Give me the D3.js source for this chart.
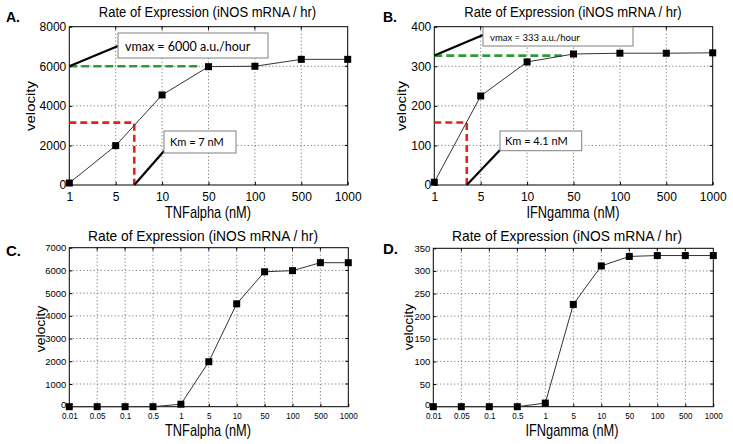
<!DOCTYPE html>
<html><head><meta charset="utf-8">
<script src="https://cdn.jsdelivr.net/npm/d3@7"></script>
<style>
body{margin:0;background:#fff}
svg{display:block;font-family:"Liberation Sans",Arial,Helvetica,sans-serif}
</style>
</head><body>
<svg id="chart" width="733" height="444"></svg>
<script>
// ---------- data ----------
const catsAB = ["1","5","10","50","100","500","1000"];
const catsCD = ["0.01","0.05","0.1","0.5","1","5","10","50","100","500","1000"];
const velA = [100, 1990, 4550, 5980, 6000, 6350, 6350];
const velB = [7, 225, 311, 331, 333, 333, 334];
const velC = [0, 0, 0, 0, 110, 1980, 4530, 5940, 5990, 6340, 6340];
const velD = [0, 0, 0, 0, 8, 226, 311, 332, 334, 334, 334];
const ticksA = [0, 2000, 4000, 6000, 8000];
const ticksB = [0, 100, 200, 300, 400];
const ticksC = [0, 1000, 2000, 3000, 4000, 5000, 6000, 7000];
const ticksD = [0, 50, 100, 150, 200, 250, 300, 350];
const titleText = "Rate of Expression (iNOS mRNA / hr)";
const xLabelTNF = "TNFalpha (nM)";
const xLabelIFN = "IFNgamma (nM)";
const yLabelText = "velocity";
// annotation values (velocity, fractional category index)
const vmaxA = 6000, halfA = 3150, kmIdxA = 1.4, greenEndA = 2.82;
const vmaxB = 327, halfB = 158, kmIdxB = 0.70, greenEndB = 2.75;
const vmaxTextA = "vmax = 6000 a.u./hour", kmTextA = "Km = 7 nM";
const vmaxTextB = "vmax = 333 a.u./hour", kmTextB = "Km = 4.1 nM";

// ---------- layout ----------
const svg = d3.select("#chart");

function stext(g, x, y, str, size, sx, anchor, opts = {}) {
  const rot = opts.rotate ? ` rotate(${opts.rotate})` : "";
  return g.append("text")
    .attr("transform", `translate(${x},${y}) scale(${sx},1)${rot}`)
    .attr("text-anchor", anchor)
    .attr("font-size", size)
    .attr("font-weight", opts.weight || "normal")
    .attr("font-family", opts.family || null)
    .attr("fill", "#000")
    .text(str);
}

function panel(p) {
  const g = svg.append("g");
  const x = d3.scalePoint().domain(p.cats).range([p.left, p.right]);
  const y = d3.scaleLinear().domain([0, p.yMax]).range([p.bottom, p.top]);
  const xi = i => p.left + i * x.step();

  // grid
  const grid = g.append("g").attr("stroke", "#555").attr("stroke-width", 0.9)
    .attr("stroke-dasharray", "1,2.5").attr("fill", "none");
  grid.selectAll(".gx").data(p.cats.slice(1, -1)).join("line")
    .attr("x1", d => x(d)).attr("x2", d => x(d)).attr("y1", p.top).attr("y2", p.bottom);
  grid.selectAll(".gy").data(p.yTicks.slice(1, -1)).join("line")
    .attr("x1", p.left).attr("x2", p.right).attr("y1", d => y(d)).attr("y2", d => y(d));

  // axes
  const ax = g.append("g").attr("transform", `translate(0,${p.bottom})`)
    .call(d3.axisBottom(x).tickSize(-3).tickPadding(p.xPad));
  ax.select(".domain").remove();
  ax.selectAll("line").attr("stroke", "#000");
  ax.selectAll("text").attr("font-size", p.tickSize).attr("font-family", null)
    .attr("transform", `scale(${p.xTickSx},1)`).attr("fill", "#000");
  const ay = g.append("g").attr("transform", `translate(${p.left},0)`)
    .call(d3.axisLeft(y).tickValues(p.yTicks).tickFormat(d3.format("d")).tickSize(-3).tickPadding(p.yPad));
  ay.select(".domain").remove();
  ay.selectAll("line").attr("stroke", "#000");
  ay.selectAll("text").attr("font-size", p.yTickSize).attr("font-family", null)
    .attr("transform", `scale(${p.yTickSx},1)`).attr("fill", "#000")
    .attr("dy", d => d === 0 ? p.zeroDy : "0.32em");
  // top/right ticks
  g.selectAll(".tt").data(p.cats.slice(1, -1)).join("line")
    .attr("x1", d => x(d)).attr("x2", d => x(d)).attr("y1", p.top).attr("y2", p.top + 3).attr("stroke", "#000");
  g.selectAll(".tr").data(p.yTicks.slice(1, -1)).join("line")
    .attr("x1", p.right - 3).attr("x2", p.right).attr("y1", d => y(d)).attr("y2", d => y(d)).attr("stroke", "#000");

  // frame
  g.append("rect").attr("x", p.left).attr("y", p.top)
    .attr("width", p.right - p.left).attr("height", p.bottom - p.top)
    .attr("fill", "none").attr("stroke", "#000").attr("stroke-width", 1);

  // annotations (panels A, B)
  if (p.anno) {
    const a = p.anno;
    g.append("line").attr("x1", p.left).attr("x2", xi(a.greenEnd))
      .attr("y1", y(a.vmax)).attr("y2", y(a.vmax))
      .attr("stroke", "#2f9a3a").attr("stroke-width", 2.6).attr("stroke-dasharray", "8,4");
    g.append("path")
      .attr("d", `M${p.left},${y(a.half)}H${xi(a.kmIdx)}V${p.bottom}`)
      .attr("fill", "none").attr("stroke", "#e0231f").attr("stroke-width", 2.6).attr("stroke-dasharray", "7,4");
  }

  // data line + markers
  const line = d3.line().x((d, i) => x(p.cats[i])).y(d => y(d));
  g.append("path").datum(p.vals).attr("d", line)
    .attr("fill", "none").attr("stroke", "#333").attr("stroke-width", 1);
  g.selectAll(".m").data(p.vals).join("rect")
    .attr("x", (d, i) => x(p.cats[i]) - p.ms / 2).attr("y", d => y(d) - p.ms / 2)
    .attr("width", p.ms).attr("height", p.ms).attr("fill", "#000");

  if (p.anno) {
    const a = p.anno;
    // vmax callout
    g.append("line").attr("x1", p.left).attr("y1", y(a.vmax))
      .attr("x2", p.left + a.vbox[0]).attr("y2", p.top + a.vlink)
      .attr("stroke", "#000").attr("stroke-width", 2.2);
    g.append("rect").attr("x", p.left + a.vbox[0]).attr("y", p.top + a.vbox[1])
      .attr("width", a.vbox[2]).attr("height", a.vbox[3])
      .attr("fill", "#fff").attr("stroke", "#808080").attr("stroke-width", 1);
    stext(g, p.left + a.vbox[0] + a.vtext[0], p.top + a.vbox[1] + a.vtext[1], a.vmaxText, a.vtext[2], 1, "start", {family: "Lato, 'Liberation Sans', sans-serif"});
    // Km callout
    g.append("line").attr("x1", xi(a.kmIdx)).attr("y1", p.bottom)
      .attr("x2", p.left + a.kbox[0]).attr("y2", p.top + a.klink)
      .attr("stroke", "#000").attr("stroke-width", 2.2);
    g.append("rect").attr("x", p.left + a.kbox[0]).attr("y", p.top + a.kbox[1])
      .attr("width", a.kbox[2]).attr("height", a.kbox[3])
      .attr("fill", "#fff").attr("stroke", "#808080").attr("stroke-width", 1);
    stext(g, p.left + a.kbox[0] + a.ktext[0], p.top + a.kbox[1] + a.ktext[1], a.kmText, a.ktext[2], 1, "start", {family: "Lato, 'Liberation Sans', sans-serif"});
  }

  // texts
  stext(g, p.title[0], p.title[1], titleText, p.title[2], p.title[3], "middle");
  stext(g, p.xlab[0], p.xlab[1], p.xlabText, p.xlab[2], p.xlab[3], "middle");
  stext(g, p.ylab[0], p.ylab[1], yLabelText, p.ylab[2], 0.87, "middle", {rotate: -90});
  stext(g, p.letter[0], p.letter[1], p.letterText, p.letter[2], 1, "start", {weight: "bold"});
}

const commonAB = {top: 26.7, bottom: 185, xPad: 7, yPad: 3, tickSize: 12, yTickSize: 12,
  xTickSx: 1, yTickSx: 1, ms: 7, zeroDy: "0.32em"};
const commonCD = {xPad: 5.5, yPad: 3, tickSize: 9.5, yTickSize: 9.5, xTickSx: 0.85, yTickSx: 1, ms: 7,
  zeroDy: "0.1em"};

panel(Object.assign({}, commonAB, {
  left: 69.3, right: 347.7, cats: catsAB, vals: velA, yMax: 8000, yTicks: ticksA,
  title: [207.5, 16.5, 15, 0.87], xlab: [208, 218, 16, 0.8], xlabText: xLabelTNF,
  ylab: [34.5, 106, 15], letter: [6, 22, 14], letterText: "A.",
  anno: {vmax: vmaxA, half: halfA, kmIdx: kmIdxA, greenEnd: greenEndA,
    vmaxText: vmaxTextA, kmText: kmTextA,
    vbox: [48.7, 6.3, 150, 25], vlink: 19.3, vtext: [7, 17.5, 12.5],
    kbox: [94.7, 104.3, 72, 22], klink: 124.3, ktext: [6, 15, 11]}
}));
panel(Object.assign({}, commonAB, {
  left: 434.3, right: 712.7, cats: catsAB, vals: velB, yMax: 400, yTicks: ticksB,
  title: [573, 16.5, 15, 0.87], xlab: [573, 218, 16, 0.8], xlabText: xLabelIFN,
  ylab: [406, 106, 15], letter: [383, 22, 14], letterText: "B.",
  anno: {vmax: vmaxB, half: halfB, kmIdx: kmIdxB, greenEnd: greenEndB,
    vmaxText: vmaxTextB, kmText: kmTextB,
    vbox: [48.7, 0.3, 150, 19], vlink: 8.3, vtext: [7, 13.5, 9.5],
    kbox: [65.7, 104.3, 81.7, 19.7], klink: 123.3, ktext: [5, 14, 11]}
}));
panel(Object.assign({}, commonCD, {
  left: 69.3, right: 348.3, top: 247.7, bottom: 406.7, cats: catsCD, vals: velC, yMax: 7000, yTicks: ticksC,
  title: [203, 241, 15, 0.92], xlab: [208, 436, 16, 0.8], xlabText: xLabelTNF,
  ylab: [44.7, 329, 14], letter: [6, 256, 15], letterText: "C."
}));
panel(Object.assign({}, commonCD, {
  left: 433.3, right: 713.3, top: 248.3, bottom: 406.7, cats: catsCD, vals: velD, yMax: 350, yTicks: ticksD,
  title: [567, 241, 15, 0.92], xlab: [572, 436, 16, 0.8], xlabText: xLabelIFN,
  ylab: [413, 327, 14], letter: [383, 254, 15], letterText: "D."
}));
</script>
</body></html>
